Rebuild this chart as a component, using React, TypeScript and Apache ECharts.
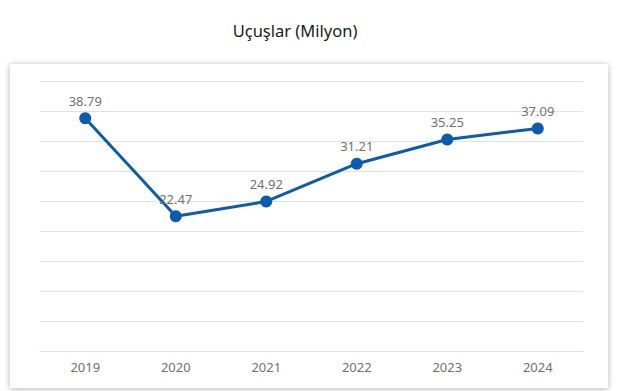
import React, { useEffect, useRef } from "react";
import * as echarts from "echarts";

const years = ["2019", "2020", "2021", "2022", "2023", "2024"];
const flights = [38.79, 22.47, 24.92, 31.21, 35.25, 37.09];
const titleText = "Uçuşlar (Milyon)";

export default function App() {
  const ref = useRef<HTMLDivElement>(null);
  useEffect(() => {
    if (!ref.current) return;
    const chart = echarts.init(ref.current, undefined, { renderer: "svg" });
    chart.setOption({
      animation: false,
      backgroundColor: "#ffffff",
      graphic: [
        {
          type: "rect",
          z: -10,
          shape: { x: 10, y: 64, width: 598, height: 324 },
          style: {
            fill: "#ffffff",
            shadowBlur: 6,
            shadowColor: "rgba(0,0,0,0.3)",
            shadowOffsetX: 0,
            shadowOffsetY: 1,
          },
        },
        {
          type: "text",
          x: 295,
          y: 30,
          style: {
            text: titleText,
            align: "center",
            verticalAlign: "middle",
            fontFamily: "Noto Sans",
            fontSize: 16.5,
            fontWeight: "normal",
            fill: "#1a1a1a",
          },
        },
      ],
      grid: { left: 40, right: 38, top: 81, bottom: 40, containLabel: false },
      xAxis: {
        type: "category",
        data: years,
        boundaryGap: true,
        axisLine: { show: true, lineStyle: { color: "#dde2e7", width: 1 } },
        axisTick: { show: false },
        axisLabel: { color: "#707070", fontFamily: "Noto Sans", fontSize: 13, margin: 9 },
      },
      yAxis: {
        type: "value",
        min: 0,
        max: 45,
        interval: 5,
        axisLabel: { show: false },
        axisLine: { show: false },
        axisTick: { show: false },
        splitLine: { lineStyle: { color: "#dde2e7", width: 1 } },
      },
      series: [
        {
          type: "line",
          data: flights,
          symbol: "circle",
          symbolSize: 12,
          lineStyle: { color: "#0b5cad", width: 3 },
          itemStyle: { color: "#0b5cad" },
          label: {
            show: true,
            position: "top",
            distance: 5,
            color: "#707070",
            fontFamily: "Noto Sans",
            fontSize: 13,
          },
        },
      ],
    });
    return () => chart.dispose();
  }, []);
  return (
    <div
      ref={ref}
      style={{ position: "fixed", left: 0, top: 0, width: 621, height: 391 }}
    />
  );
}
